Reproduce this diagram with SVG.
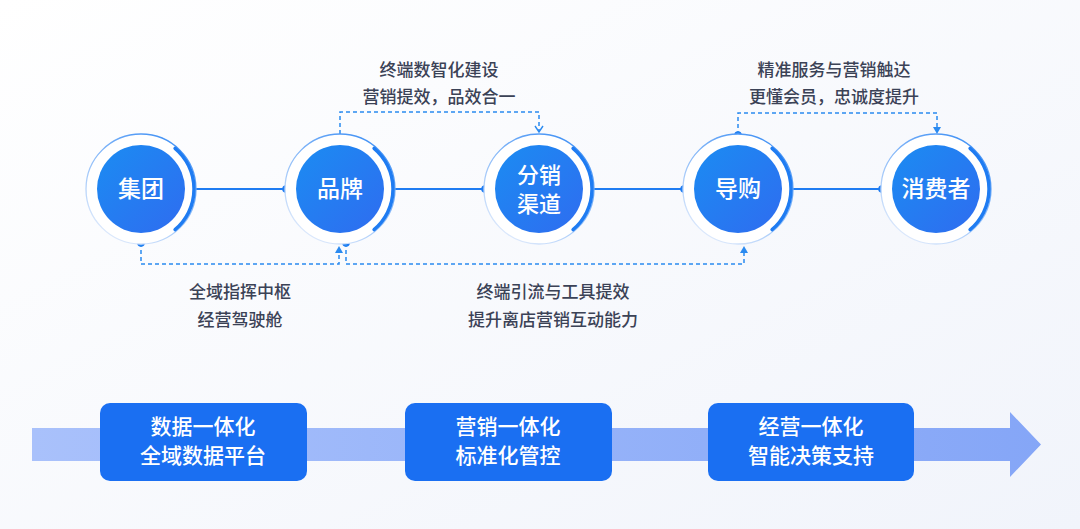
<svg xmlns="http://www.w3.org/2000/svg" width="1080" height="529" viewBox="0 0 1080 529">
<defs>
<linearGradient id="bg" x1="0" y1="0" x2="1" y2="1">
<stop offset="0" stop-color="#ffffff"/>
<stop offset="1" stop-color="#f1f4fb"/>
</linearGradient>
<linearGradient id="fill" x1="0" y1="0" x2="1" y2="1">
<stop offset="0" stop-color="#1b8cf2"/>
<stop offset="1" stop-color="#2f6cf0"/>
</linearGradient>
<linearGradient id="ring" x1="0.8" y1="0" x2="0.2" y2="1">
<stop offset="0" stop-color="#3d8ff5"/>
<stop offset="1" stop-color="#e6eefc"/>
</linearGradient>
<linearGradient id="band" x1="0" y1="0" x2="1" y2="0">
<stop offset="0" stop-color="#a9c1fb"/>
<stop offset="1" stop-color="#85a6f7"/>
</linearGradient>
<style>
.txt{font-family:"Noto Sans CJK SC","Noto Sans",sans-serif;font-size:17px;fill:#3b4256;font-weight:500;text-anchor:middle}
.lbl{font-family:"Noto Sans CJK SC","Noto Sans",sans-serif;font-size:23px;fill:#ffffff;font-weight:500;text-anchor:middle}
.lbl2{font-family:"Noto Sans CJK SC","Noto Sans",sans-serif;font-size:22px;fill:#ffffff;font-weight:500;text-anchor:middle}
.box{font-family:"Noto Sans CJK SC","Noto Sans",sans-serif;font-size:21px;fill:#ffffff;font-weight:500;text-anchor:middle}
.ringc{fill:#ffffff;stroke:url(#ring);stroke-width:1.3}
.inner{fill:url(#fill)}
.arc{fill:none;stroke:#1f7cf2;stroke-width:3.5;stroke-linecap:round}
.solid{stroke:#1f7cf2;stroke-width:2;fill:none}
.dash{stroke:#2a8af0;stroke-width:1.5;fill:none;stroke-dasharray:4 3}
.dot{fill:#1f7cf2}
.tri{fill:#2a8af0}
.bx{fill:#1a6ff2}
</style>
</defs>
<rect width="1080" height="529" fill="url(#bg)"/>

<g id="connectors">
<line class="solid" x1="196" y1="189" x2="285" y2="189"/>
<circle class="dot" cx="286" cy="189" r="3.8"/>
<line class="solid" x1="395" y1="189" x2="484" y2="189"/>
<circle class="dot" cx="485" cy="189" r="3.8"/>
<line class="solid" x1="594" y1="189" x2="683" y2="189"/>
<circle class="dot" cx="684" cy="189" r="3.8"/>
<line class="solid" x1="793" y1="189" x2="881" y2="189"/>
<circle class="dot" cx="882" cy="189" r="3.8"/>

<path class="dash" d="M340 134 V112 H539 V132"/>
<path d="M535 126 L539 132 L543 126" fill="none" stroke="#2a8af0" stroke-width="1.4"/>

<circle class="dot" cx="738" cy="135" r="3.8"/>
<path class="dash" d="M738 135 V113 H937 V128"/>
<path class="tri" d="M933 127 L941 127 L937 134 Z"/>

<circle class="dot" cx="141" cy="243" r="3.8"/>
<path class="dash" d="M141 243 V264 H339 V252"/>
<path class="tri" d="M335 253 L343 253 L339 246 Z"/>

<circle class="dot" cx="346" cy="243" r="3.8"/>
<path class="dash" d="M346 243 V264 H744 V252"/>
<path class="tri" d="M740 253 L748 253 L744 246 Z"/>
</g>

<g id="node-jituan" transform="translate(141,189)">
<circle class="ringc" r="55"/>
<path class="arc" d="M34.1 -40.6 A53 53 0 0 1 34.1 40.6"/>
<circle class="inner" r="44"/>
<text class="lbl" x="0" y="8">集团</text>
</g>
<g id="node-pinpai" transform="translate(340,189)">
<circle class="ringc" r="55"/>
<path class="arc" d="M34.1 -40.6 A53 53 0 0 1 34.1 40.6"/>
<circle class="inner" r="44"/>
<text class="lbl" x="0" y="8">品牌</text>
</g>
<g id="node-fenxiao" transform="translate(539,189)">
<circle class="ringc" r="55"/>
<path class="arc" d="M34.1 -40.6 A53 53 0 0 1 34.1 40.6"/>
<circle class="inner" r="44"/>
<text class="lbl2" x="0" y="-6">分销</text>
<text class="lbl2" x="0" y="23">渠道</text>
</g>
<g id="node-daogou" transform="translate(738,189)">
<circle class="ringc" r="55"/>
<path class="arc" d="M34.1 -40.6 A53 53 0 0 1 34.1 40.6"/>
<circle class="inner" r="44"/>
<text class="lbl" x="0" y="8">导购</text>
</g>
<g id="node-xiaofeizhe" transform="translate(936,189)">
<circle class="ringc" r="55"/>
<path class="arc" d="M34.1 -40.6 A53 53 0 0 1 34.1 40.6"/>
<circle class="inner" r="44"/>
<text class="lbl" x="0" y="8">消费者</text>
</g>

<g id="labels">
<text class="txt" x="439" y="76">终端数智化建设</text>
<text class="txt" x="439" y="103">营销提效，品效合一</text>
<text class="txt" x="834" y="76">精准服务与营销触达</text>
<text class="txt" x="834" y="103">更懂会员，忠诚度提升</text>
<text class="txt" x="240" y="298">全域指挥中枢</text>
<text class="txt" x="240" y="326">经营驾驶舱</text>
<text class="txt" x="553" y="298">终端引流与工具提效</text>
<text class="txt" x="553" y="326">提升离店营销互动能力</text>
</g>

<g id="timeline">
<path d="M32 428 H1010 V412 L1041 444.5 L1010 477 V461 H32 Z" fill="url(#band)"/>
</g>
<g id="box-1">
<rect class="bx" x="100" y="403" width="207" height="78" rx="10"/>
<text class="box" x="203" y="434">数据一体化</text>
<text class="box" x="203" y="462.5">全域数据平台</text>
</g>
<g id="box-2">
<rect class="bx" x="405" y="403" width="207" height="78" rx="10"/>
<text class="box" x="508" y="434">营销一体化</text>
<text class="box" x="508" y="462.5">标准化管控</text>
</g>
<g id="box-3">
<rect class="bx" x="708" y="403" width="206" height="78" rx="10"/>
<text class="box" x="811" y="434">经营一体化</text>
<text class="box" x="811" y="462.5">智能决策支持</text>
</g>
</svg>
